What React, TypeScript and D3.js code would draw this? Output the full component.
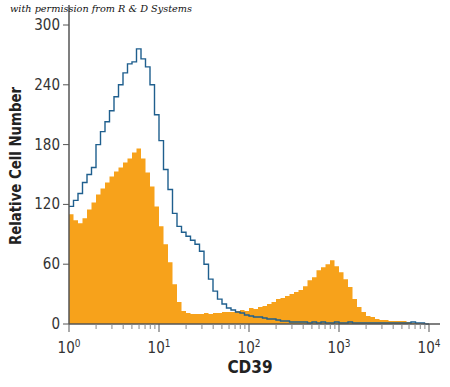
import React, { useEffect, useRef } from "react";
import * as d3 from "d3";

// 80 log-spaced channels, 20 per decade, from 10^0 to 10^4
const binsPerDecade = 20;
const isotype = [
  110, 104, 101, 106, 115, 122, 130, 136, 142, 148,
  153, 157, 162, 166, 172, 176, 166, 152, 138, 118,
  98, 80, 62, 40, 22, 13, 11, 10, 10, 10,
  11, 10, 11, 11, 12, 12, 12, 13, 14, 13,
  16, 15, 17, 18, 20, 22, 25, 26, 28, 30,
  32, 34, 38, 44, 47, 54, 57, 60, 64, 58,
  52, 45, 37, 25, 17, 12, 8, 7, 5, 4,
  4, 3, 3, 3, 3, 2, 1, 1, 0, 0,
];
const stained = [
  118, 124, 131, 142, 150, 157, 180, 193, 203, 214,
  228, 240, 252, 261, 263, 276, 266, 258, 240, 210,
  184, 155, 135, 111, 98, 92, 88, 84, 80, 73,
  60, 45, 33, 25, 20, 16, 14, 12, 11, 9,
  8, 7, 7, 6, 5, 5, 4, 3, 3, 2,
  2, 2, 2, 1, 2, 1, 2, 1, 1, 2,
  1, 1, 2, 1, 1, 1, 1, 1, 1, 1,
  1, 1, 1, 1, 1, 1, 2, 1, 1, 0,
];
const yTicks = [0, 60, 120, 180, 240, 300];
const xTicks = [1, 10, 100, 1000, 10000];
const xExp = ["0", "1", "2", "3", "4"];

const App = () => {
  const ref = useRef<SVGSVGElement>(null);

  useEffect(() => {
    const svg = d3.select(ref.current);
    svg.selectAll("*").remove();

    const left = 69, right = 429, top = 25, bottom = 324;
    const x = d3.scaleLog().domain([1, 10000]).range([left, right]);
    const y = d3.scaleLinear().domain([0, 300]).range([bottom, top]);
    const font = "'DejaVu Sans Condensed', 'DejaVu Sans', sans-serif";

    const toSteps = (vals: number[]) => {
      const pts = vals.map((v, i) => [Math.pow(10, i / binsPerDecade), v] as [number, number]);
      pts.push([Math.pow(10, vals.length / binsPerDecade), vals[vals.length - 1]]);
      return pts;
    };

    svg.append("path")
      .datum(toSteps(isotype))
      .attr("fill", "#f7a21b")
      .attr("d", d3.area<[number, number]>()
        .x(d => x(d[0]))
        .y0(y(0))
        .y1(d => y(d[1]))
        .curve(d3.curveStepAfter));

    svg.append("path")
      .datum(toSteps(stained))
      .attr("fill", "none")
      .attr("stroke", "#1f5f8e")
      .attr("stroke-width", 1.4)
      .attr("d", d3.line<[number, number]>()
        .x(d => x(d[0]))
        .y(d => y(d[1]))
        .curve(d3.curveStepAfter));

    const axisColor = "#555";

    // y axis
    svg.append("line")
      .attr("x1", left).attr("x2", left)
      .attr("y1", 5).attr("y2", bottom)
      .attr("stroke", axisColor).attr("stroke-width", 1.5);
    const yg = svg.append("g");
    yTicks.forEach(t => {
      yg.append("line")
        .attr("x1", left - 6).attr("x2", left)
        .attr("y1", y(t)).attr("y2", y(t))
        .attr("stroke", axisColor);
      yg.append("text")
        .attr("x", left - 9).attr("y", y(t) + 5)
        .attr("text-anchor", "end")
        .attr("font-family", font).attr("font-stretch", "condensed").attr("font-size", 15)
        .attr("fill", "#333")
        .text(t);
    });

    // x axis
    svg.append("line")
      .attr("x1", left).attr("x2", 440)
      .attr("y1", bottom).attr("y2", bottom)
      .attr("stroke", axisColor).attr("stroke-width", 1.5);
    const xg = svg.append("g");
    const minor: number[] = [];
    for (let d = 0; d < 4; d++) {
      for (let m = 2; m <= 9; m++) minor.push(m * Math.pow(10, d));
    }
    minor.forEach(v => {
      xg.append("line")
        .attr("x1", x(v)).attr("x2", x(v))
        .attr("y1", bottom).attr("y2", bottom + 5)
        .attr("stroke", "#888");
    });
    xTicks.forEach((t, i) => {
      xg.append("line")
        .attr("x1", x(t)).attr("x2", x(t))
        .attr("y1", bottom).attr("y2", bottom + 8)
        .attr("stroke", axisColor);
      const txt = xg.append("text")
        .attr("x", x(t)).attr("y", bottom + 29)
        .attr("text-anchor", "middle")
        .attr("font-family", font).attr("font-stretch", "condensed").attr("font-size", 15)
        .attr("fill", "#333");
      txt.append("tspan").text("10");
      txt.append("tspan").attr("dy", -6).attr("font-size", 10).text(xExp[i]);
    });

    svg.append("text")
      .attr("x", 250).attr("y", 373)
      .attr("text-anchor", "middle")
      .attr("font-family", font).attr("font-stretch", "condensed")
      .attr("font-size", 17).attr("font-weight", "bold")
      .attr("fill", "#222")
      .text("CD39");

    svg.append("text")
      .attr("transform", `translate(21,166) rotate(-90)`)
      .attr("text-anchor", "middle")
      .attr("font-family", font).attr("font-stretch", "condensed")
      .attr("font-size", 16).attr("font-weight", "bold")
      .attr("textLength", 158).attr("lengthAdjust", "spacingAndGlyphs")
      .attr("fill", "#222")
      .text("Relative Cell Number");

    svg.append("text")
      .attr("x", 10).attr("y", 12)
      .attr("font-family", "'DejaVu Serif', serif").attr("font-style", "italic")
      .attr("font-size", 10)
      .attr("textLength", 182).attr("lengthAdjust", "spacingAndGlyphs")
      .attr("fill", "#111")
      .text("with permission from R & D Systems");
  }, []);

  return (
    <svg
      ref={ref}
      width={450}
      height={387}
      style={{ position: "absolute", left: 0, top: 0, background: "#fff" }}
    />
  );
};

export default App;
